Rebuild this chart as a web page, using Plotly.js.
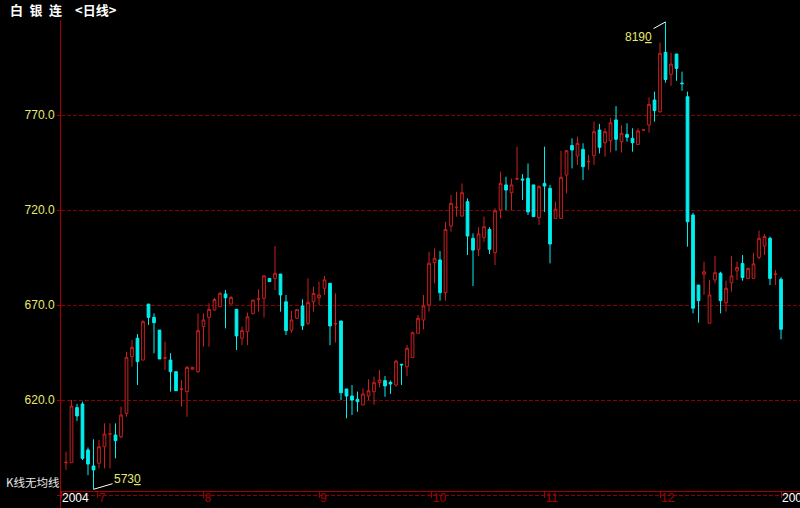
<!DOCTYPE html>
<html><head><meta charset="utf-8">
<script src="https://cdn.plot.ly/plotly-3.0.1.min.js"></script>
<style>html,body{margin:0;padding:0;background:#000;}#chart{width:800px;height:508px;}</style>
</head><body><div id="chart"></div>
<script>
const openP = [
587.0,587.0,616.0,617.9,593.7,585.3,586.7,595.4,602.0,601.6,
600.7,613.0,642.8,652.5,641.0,670.5,663.5,656.8,642.0,641.0,
634.9,625.6,624.4,636.2,634.9,658.6,663.5,667.4,669.1,675.8,
670.5,667.7,652.5,656.0,665.6,673.0,673.5,684.0,684.0,686.3,
671.7,656.8,663.0,669.5,660.4,671.7,673.8,678.8,681.4,660.0,
661.6,625.8,622.1,620.4,617.4,622.1,624.4,629.1,630.2,629.3,
627.9,638.8,637.5,642.3,655.1,662.1,670.0,692.3,693.7,676.5,
711.6,721.2,716.8,724.4,705.1,699.3,705.6,709.8,697.5,720.0,
733.2,729.1,736.3,736.3,736.7,733.2,716.1,734.0,731.4,715.6,
715.6,738.4,753.9,748.4,751.9,745.4,748.6,762.1,755.4,756.5,
767.4,755.9,759.8,757.7,754.5,762.0,764.7,777.9,771.7,803.0,
791.4,802.1,786.8,779.6,717.4,680.5,686.1,660.4,683.2,686.7,
671.2,681.7,688.0,691.9,684.0,684.0,695.1,701.0,705.1,686.1,
683.5];
const highP = [
592.8,620.0,617.9,619.1,595.0,599.3,599.0,607.7,607.7,607.7,
616.5,645.4,651.6,654.7,662.0,670.5,665.6,656.8,650.7,644.6,
634.9,630.5,637.9,637.2,665.6,665.6,670.9,673.7,677.0,677.9,
674.7,667.7,658.6,666.0,672.6,678.3,685.8,684.0,701.0,686.3,
675.3,667.0,667.7,673.0,684.0,679.6,682.3,685.3,681.4,676.1,
661.6,625.8,627.9,624.4,626.2,630.9,632.3,635.8,632.6,630.2,
641.0,638.8,649.0,656.0,664.7,675.3,698.0,699.8,698.4,713.8,
727.9,729.6,734.0,726.1,707.7,710.9,716.5,710.9,720.9,740.2,
737.5,736.6,753.3,738.9,744.5,733.2,733.2,753.3,733.2,724.4,
751.2,751.6,757.7,758.6,755.1,749.0,766.5,765.3,763.0,768.3,
774.7,764.7,765.6,763.0,763.0,762.4,779.3,782.3,808.2,819.0,
802.8,802.1,792.8,782.3,718.6,680.5,692.8,683.2,695.8,687.5,
682.8,695.8,692.8,696.3,689.3,697.5,709.1,707.4,706.0,688.4,
684.6];
const lowP = [
583.2,587.0,609.0,588.4,580.5,573.0,584.0,584.0,584.0,589.3,
599.8,611.2,637.5,627.9,641.0,659.5,644.6,641.6,635.8,624.4,
624.9,616.5,611.2,636.2,634.4,648.1,648.1,667.0,669.1,657.7,
670.5,646.3,648.9,648.9,665.0,666.5,663.5,682.3,677.9,666.5,
654.2,655.4,663.0,656.8,659.5,666.5,670.0,675.3,648.9,650.2,
620.0,610.4,612.1,613.8,617.4,620.0,617.4,626.7,621.7,623.2,
627.0,627.9,632.6,642.3,655.1,657.2,666.5,681.4,672.3,672.3,
708.6,716.5,716.5,696.3,680.0,695.8,703.3,696.8,691.0,715.6,
720.0,720.0,735.8,725.3,717.4,716.5,712.1,719.0,691.9,715.6,
715.6,728.8,741.9,743.7,735.8,741.1,743.7,749.8,748.0,750.2,
751.2,750.2,756.0,750.7,754.5,761.8,760.7,766.5,771.2,787.0,
785.3,788.0,782.8,700.7,665.6,660.7,675.3,660.4,681.4,665.6,
666.5,677.0,683.2,682.8,684.0,684.0,694.0,696.3,680.5,680.5,
651.9];
const closeP = [
587.2,616.8,611.6,589.3,586.3,583.2,595.4,602.1,602.2,598.6,
612.1,642.5,647.7,640.2,661.2,663.5,660.7,641.6,642.2,634.9,
624.9,625.8,637.2,637.2,656.5,662.1,667.7,672.9,676.1,673.8,
674.0,653.7,656.5,663.8,672.6,673.2,685.3,682.3,686.7,675.3,
656.5,662.1,667.7,659.1,671.4,676.1,675.3,683.2,659.0,660.2,
623.8,622.1,620.0,619.1,623.2,624.9,629.1,630.5,627.4,628.4,
640.5,638.5,647.2,655.4,663.0,669.5,692.0,694.6,676.5,709.8,
723.5,721.4,729.1,706.3,698.9,707.4,711.2,699.3,719.6,734.0,
730.5,733.2,736.5,735.8,719.0,716.5,732.3,732.6,702.1,720.4,
737.2,751.2,751.6,755.1,742.8,745.6,761.2,753.0,761.2,765.9,
757.2,760.4,758.3,755.4,761.6,762.2,775.6,772.3,802.5,788.7,
796.8,794.5,786.5,713.8,668.3,672.3,687.5,675.3,687.0,672.3,
678.8,685.3,689.8,684.5,689.3,691.6,705.1,706.0,684.0,686.3,
657.2];

const monthTickPos = [-0.909, 5.75, 25, 46, 66.5, 87, 108, 130];
const monthTickText = ['2004', '7', '8', '9', '10', '11', '12', '2005'];
const yTickVals = [570, 620, 670, 720, 770];
const yTickText = ['', '620.0', '670.0', '720.0', '770.0'];
const chartTitle = '白\u2002银\u2002连\u2002\u2002&lt;日线&gt;';
const noteText = 'K线无均线';

const RED = '#cc1f1f';
const CYAN = '#00f0f0';
const AXIS = '#a80000';
const GRID = '#8a0000';
const YEL = '#e8e870';

const idx = openP.map((_, i) => i);
const hiIdx = highP.indexOf(Math.max(...highP));
const loIdx = lowP.indexOf(Math.min(...lowP));
const fmt = v => { const s = v.toFixed(1).split('.'); return s[0] + '<u>' + s[1] + '</u>'; };

const tickText = monthTickText.map((t, i) => (i === 0 || i === monthTickText.length - 1)
  ? '<span style="color:#ffffff">' + t + '</span>' : t);

const trace = {
  type: 'candlestick', x: idx, open: openP, high: highP, low: lowP, close: closeP,
  increasing: {line: {color: RED, width: 1}, fillcolor: '#000000'},
  decreasing: {line: {color: CYAN, width: 1}, fillcolor: CYAN},
  whiskerwidth: 0, hoverinfo: 'none', showlegend: false
};

const layout = {
  width: 800, height: 508,
  paper_bgcolor: '#000', plot_bgcolor: '#000',
  margin: {l: 61, r: 0, t: 20, b: 0},
  showlegend: false,
  boxgap: 0.3,
  title: {text: chartTitle, font: {family: 'Noto Sans CJK SC', size: 13, color: '#ffffff', weight: 'bold'},
    xref: 'container', yref: 'container', x: 10/800, xanchor: 'left', y: 1 - 10/508, yanchor: 'middle'},
  xaxis: {
    range: [-0.909, 133.45], anchor: 'free', position: 17/488,
    showgrid: false, zeroline: false, showline: true, linecolor: AXIS, linewidth: 1,
    tickmode: 'array', tickvals: monthTickPos, ticktext: tickText,
    ticks: 'outside', ticklen: 6, tickcolor: AXIS, tickwidth: 1,
    ticklabelposition: 'outside right', ticklabeloverflow: 'allow', ticklabelstandoff: -4,
    tickfont: {family: 'Liberation Sans', size: 12, color: AXIS},
    rangeslider: {visible: false}, fixedrange: true
  },
  yaxis: {
    range: [563.16, 820], showgrid: true, gridcolor: GRID, griddash: '4px,2px', gridwidth: 1,
    zeroline: false, showline: true, linecolor: AXIS, linewidth: 1,
    tickmode: 'array', tickvals: yTickVals, ticktext: yTickText,
    ticks: 'outside', ticklen: 3, tickcolor: AXIS,
    tickfont: {family: 'Liberation Sans', size: 12, color: YEL}, fixedrange: true
  },
  annotations: [
    {x: hiIdx, y: highP[hiIdx], xref: 'x', yref: 'y', text: fmt(highP[hiIdx]), showarrow: true,
     arrowhead: 0, arrowwidth: 1, arrowcolor: '#ffffff', ax: -27, ay: 15, standoff: 0,
     font: {family: 'Liberation Sans', size: 12, color: YEL}},
    {x: loIdx, y: lowP[loIdx], xref: 'x', yref: 'y', text: fmt(lowP[loIdx]), showarrow: true,
     arrowhead: 0, arrowwidth: 1, arrowcolor: '#ffffff', ax: 34, ay: -10, standoff: 0,
     font: {family: 'Liberation Sans', size: 12, color: YEL}},
    {x: -57/739, y: (508 - 481.5)/488, xref: 'paper', yref: 'paper', xanchor: 'left', yanchor: 'middle',
     text: noteText, showarrow: false, font: {family: 'Noto Sans CJK SC', size: 11.5, color: '#e8e8e8'}}
  ]
};

Plotly.newPlot('chart', [trace], layout, {staticPlot: true, displayModeBar: false});
</script>
</body></html>
